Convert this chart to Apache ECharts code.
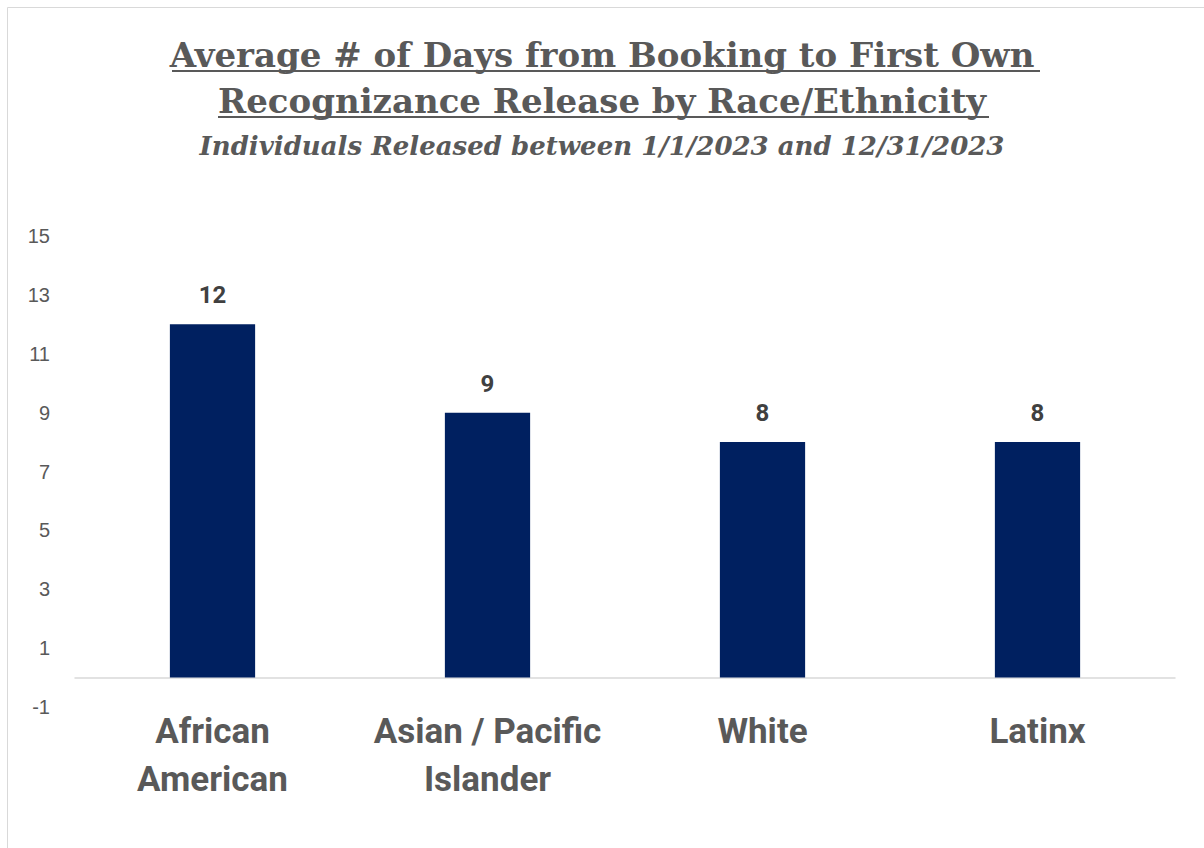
<!DOCTYPE html>
<html>
<head>
<meta charset="utf-8">
<script src="https://cdn.jsdelivr.net/npm/echarts@6/dist/echarts.min.js"></script>
<style>
  html, body { margin: 0; padding: 0; background: #fff; }
  #chart { width: 1204px; height: 848px; }
</style>
</head>
<body>
<div id="chart"></div>
<script>
// data
const categories = ['African\nAmerican', 'Asian / Pacific\nIslander', 'White', 'Latinx'];
const avgDays = [12, 9, 8, 8];
const yTicks = [-1, 1, 3, 5, 7, 9, 11, 13, 15];

const titleLine1 = 'Average # of Days from Booking to First Own';
const titleLine2 = 'Recognizance Release by Race/Ethnicity';
const subTitle = 'Individuals Released between 1/1/2023 and 12/31/2023';

let myChart = echarts.init(document.getElementById('chart'), null, { renderer: 'svg' });

myChart.setOption({
  backgroundColor: '#fff',
  title: [
    {
      text: titleLine1 + '\n' + titleLine2,
      left: 'center',
      top: 27,
      textStyle: {
        fontFamily: 'DejaVu Serif',
        fontWeight: 'bold',
        fontSize: 34,
        lineHeight: 46,
        color: '#595959'
      }
    },
    {
      text: subTitle,
      left: 'center',
      top: 128,
      textStyle: {
        fontFamily: 'DejaVu Serif',
        fontWeight: 'bold',
        fontStyle: 'italic',
        fontSize: 26,
        color: '#595959'
      }
    }
  ],
  // chart border + title underlines
  graphic: [
    { type: 'rect', shape: { x: 7.5, y: 7.5, width: 1230, height: 900 },
      style: { fill: 'none', stroke: '#d9d9d9', lineWidth: 1 } },
    { type: 'rect', shape: { x: 172, y: 70, width: 868, height: 2 }, style: { fill: '#595959' } },
    { type: 'rect', shape: { x: 218, y: 116, width: 771, height: 2 }, style: { fill: '#595959' } }
  ],
  grid: { left: 75, right: 29, top: 236, bottom: 141 },
  xAxis: {
    type: 'category',
    data: categories,
    axisLine: { onZero: true, lineStyle: { color: '#d9d9d9', width: 1.5 } },
    axisTick: { show: false },
    axisLabel: {
      interval: 0,
      margin: 0,
      fontFamily: 'Roboto',
      fontWeight: 'bold',
      fontSize: 35,
      lineHeight: 48,
      color: '#595959'
    }
  },
  yAxis: {
    type: 'value',
    min: -1,
    max: 15,
    interval: 2,
    splitLine: { show: false },
    axisLine: { show: false },
    axisTick: { show: false },
    axisLabel: {
      margin: 25,
      fontFamily: 'Liberation Sans',
      fontSize: 20,
      color: '#595959',
      customValues: yTicks
    }
  },
  series: [
    {
      type: 'bar',
      data: avgDays,
      barWidth: '31%',
      itemStyle: { color: '#002060' },
      label: {
        show: true,
        position: 'top',
        distance: 17,
        fontFamily: 'Roboto',
        fontWeight: 'bold',
        fontSize: 24,
        color: '#404040'
      }
    }
  ]
});
</script>
</body>
</html>
